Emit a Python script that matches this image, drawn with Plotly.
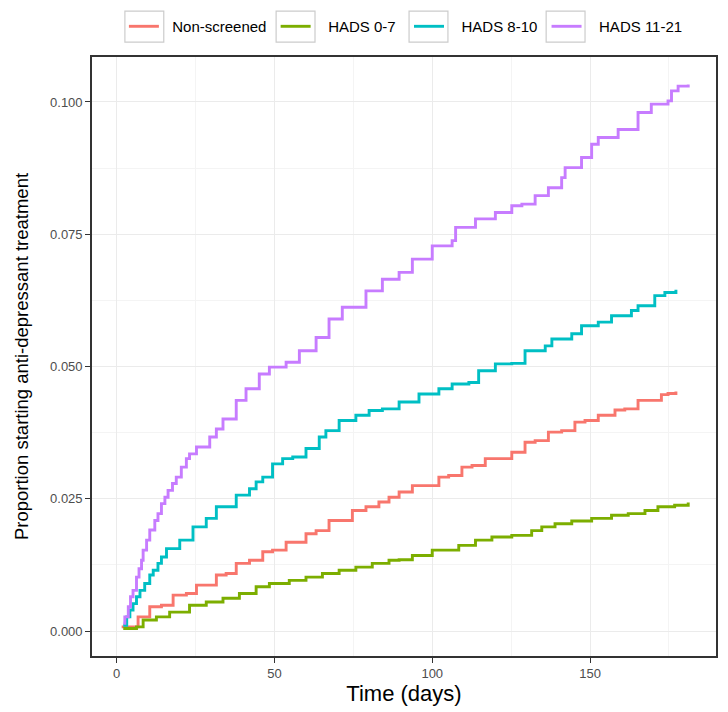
import plotly.graph_objects as go

# ---- data ----
series_names = ["Non-screened", "HADS 0-7", "HADS 8-10", "HADS 11-21"]
series_colors = ["#F8766D", "#7CAE00", "#00BFC4", "#C77CFF"]

nonscreened_x = [1.6, 6.8, 10.5, 14.2, 17.9, 22.1, 25.3, 28.4, 31.6, 34.7, 37.9, 42.1, 46.3, 49.4, 53.7, 55.8,
                 60, 63.2, 67.3, 70.5, 74.7, 79, 83.1, 86.3, 89.5, 93.7, 97.9, 102.1, 105.2, 109.4, 112.6, 116.8,
                 120, 125.2, 129.4, 132.6, 136.8, 141, 145.2, 148.4, 152.6, 157.9, 161, 165.2, 168.4, 172.6,
                 174.7, 177.2]
nonscreened_y = [0.0008, 0.0027, 0.0046, 0.0049, 0.0068, 0.0071, 0.0087, 0.0087, 0.0106, 0.0109, 0.0128, 0.0134,
                 0.0150, 0.0153, 0.0168, 0.0168, 0.0184, 0.0190, 0.0209, 0.0209, 0.0228, 0.0235, 0.0244, 0.0253,
                 0.0263, 0.0275, 0.0275, 0.0291, 0.0294, 0.0310, 0.0313, 0.0326, 0.0326, 0.0338, 0.0357, 0.0360,
                 0.0376, 0.0379, 0.0395, 0.0398, 0.0408, 0.0418, 0.0420, 0.0436, 0.0436, 0.0447, 0.0449, 0.0453]

hads07_x = [2.1, 6.3, 8.4, 12.6, 16.8, 23.1, 28.4, 33.7, 38.9, 44.2, 48.4, 54.7, 60, 65.2, 70.5, 75.8, 81,
            86.3, 89.5, 93.7, 100, 102, 108.4, 113.7, 118.9, 125.2, 131.5, 134.7, 138.9, 144.2, 150.5, 156.8,
            162.1, 167.4, 171.5, 176.8, 181.1]
hads07_y = [0.0005, 0.0008, 0.0021, 0.0027, 0.0036, 0.0049, 0.0055, 0.0062, 0.0071, 0.0084, 0.0090, 0.0096,
            0.0102, 0.0109, 0.0115, 0.0121, 0.0128, 0.0134, 0.0135, 0.0143, 0.0153, 0.0153, 0.0162, 0.0172,
            0.0178, 0.0181, 0.0190, 0.0197, 0.0203, 0.0208, 0.0213, 0.0219, 0.0222, 0.0228, 0.0235, 0.0238,
            0.0243]

hads810_x = [2.1, 3.2, 4.2, 5.2, 6.3, 7.4, 8.9, 10.5, 11.6, 13.1, 14.2, 15.8, 20, 24.2, 28.4, 31.6, 34.7,
             37.9, 42.1, 44.2, 46.3, 49.4, 52.6, 55.8, 60, 64.2, 66.3, 70.5, 75.8, 80, 84.2, 89.5, 95.8, 102.1,
             106.3, 111.6, 114.7, 120, 125.2, 129.4, 135.8, 137.9, 144.2, 147.3, 152.6, 156.8, 163.1, 165.2,
             170.5, 173.7, 177.2]
hads810_y = [0.0011, 0.0027, 0.0040, 0.0052, 0.0065, 0.0077, 0.0090, 0.0106, 0.0115, 0.0128, 0.0140, 0.0156,
             0.0172, 0.0197, 0.0213, 0.0235, 0.0235, 0.0257, 0.0269, 0.0282, 0.0291, 0.0316, 0.0326, 0.0329,
             0.0345, 0.0367, 0.0379, 0.0398, 0.0408, 0.0417, 0.0420, 0.0433, 0.0448, 0.0458, 0.0467, 0.0470,
             0.0492, 0.0505, 0.0506, 0.0530, 0.0539, 0.0552, 0.0562, 0.0577, 0.0584, 0.0596, 0.0606, 0.0615,
             0.0634, 0.0640, 0.0645]

hads1121_x = [2.1, 2.6, 3.7, 4.4, 5.2, 6.3, 7.1, 7.9, 8.4, 9.5, 10.5, 12.1, 13.1, 14.2, 15.3, 16.3, 17.7, 18.9,
              20.5, 22.1, 23.1, 25.3, 29.5, 31.6, 33.7, 37.9, 41.0, 45.2, 48.4, 53.7, 57.9, 63.2, 67.3, 71.5,
              79, 84.2, 89.5, 93.7, 100, 106.3, 107.4, 113.7, 120, 125.2, 128.4, 132.6, 136.8, 141, 142.1,
              147.3, 150.5, 152.6, 158.9, 165.2, 169.4, 174.7, 175.8, 177.9, 181.1]
hads1121_y = [0.0015, 0.0027, 0.0046, 0.0065, 0.0077, 0.0102, 0.0118, 0.0134, 0.0153, 0.0172, 0.0191, 0.0209,
              0.0222, 0.0241, 0.0253, 0.0266, 0.0279, 0.0291, 0.0310, 0.0326, 0.0335, 0.0348, 0.0367, 0.0382,
              0.0401, 0.0436, 0.0458, 0.0486, 0.0499, 0.0508, 0.0530, 0.0555, 0.0590, 0.0612, 0.0643, 0.0665,
              0.0678, 0.0703, 0.0728, 0.0738, 0.0763, 0.0779, 0.0791, 0.0804, 0.0807, 0.0823, 0.0838, 0.0857,
              0.0876, 0.0895, 0.0920, 0.0933, 0.0948, 0.0980, 0.0996, 0.1002, 0.1021, 0.1030, 0.1033]

x_tick_vals = [0, 50, 100, 150]
y_tick_vals = [0.000, 0.025, 0.050, 0.075, 0.100]
y_tick_text = ["0.000", "0.025", "0.050", "0.075", "0.100"]

xs = [nonscreened_x, hads07_x, hads810_x, hads1121_x]
ys = [nonscreened_y, hads07_y, hads810_y, hads1121_y]

# ---- layout geometry (pixels) ----
W, H = 728, 712
ML, MR, MT, MB = 92, 10, 56, 56
PW, PH = W - ML - MR, H - MT - MB

NB = "\u00a0"
# leading / trailing non-breaking spaces to mimic ggplot legend spacing
lead = [2, 3, 3, 3]
trail = [1, 2, 1, 0]
legend_labels = [NB * l + n + NB * t for n, l, t in zip(series_names, lead, trail)]

fig = go.Figure()
for label, color, x, y in zip(legend_labels, series_colors, xs, ys):
    fig.add_trace(go.Scatter(x=x, y=y, mode="lines", name=label,
                             line=dict(color=color, width=2.9, shape="hv")))

font_family = "Liberation Sans, Arial, sans-serif"
legend_font = 15
legend_origin = 124  # px from left of figure

# predicted plotly legend item origins for the key boxes
nbw = 0.278 * legend_font
char_w = {"N": 722, "o": 556, "n": 556, "-": 333, "s": 500, "c": 500, "r": 333, "e": 556, "d": 556,
          "H": 722, "A": 667, "D": 722, "S": 667, " ": 278, "0": 556, "1": 556, "2": 556, "7": 556,
          "8": 556}
origins = [legend_origin]
for name, l, t in zip(series_names, lead, trail):
    tw = sum(char_w.get(c, 556) for c in name) / 1000 * legend_font
    origins.append(origins[-1] + 40 + (l + t) * nbw + tw + 5)
origins = origins[:4]

shapes = []
box_top, box_bot = 10, 41
for o in origins:
    x0 = (o + 1 - ML) / PW
    x1 = (o + 40 - ML) / PW
    y0 = (H - MB - box_bot) / PH
    y1 = (H - MB - box_top) / PH
    shapes.append(dict(type="rect", xref="paper", yref="paper", x0=x0, x1=x1, y0=y0, y1=y1,
                       line=dict(color="#cccccc", width=1.2), fillcolor="white", layer="below"))

fig.update_layout(
    width=W, height=H,
    margin=dict(l=ML, r=MR, t=MT, b=MB),
    paper_bgcolor="white", plot_bgcolor="white",
    font=dict(family=font_family, color="black"),
    showlegend=True,
    shapes=shapes,
    legend=dict(orientation="h", x=(legend_origin - ML) / PW, xanchor="left",
                y=(H - MB - (box_top + box_bot) / 2) / PH, yanchor="middle",
                bgcolor="rgba(0,0,0,0)", borderwidth=0,
                font=dict(size=legend_font, color="black"), itemwidth=30, traceorder="normal"),
    xaxis=dict(range=[-7.8, 189.9], tickvals=x_tick_vals, ticks="outside", ticklen=5, tickwidth=1.3,
               tickcolor="#333333", tickfont=dict(size=13, color="#4d4d4d"),
               showline=True, linecolor="#333333", linewidth=1.6, mirror=True,
               showgrid=True, gridcolor="#ebebeb", gridwidth=1, zeroline=False,
               minor=dict(dtick=25, tick0=25, showgrid=True, gridcolor="#f4f4f4", gridwidth=1),
               title=dict(text="Time (days)", font=dict(size=22, color="black"), standoff=2)),
    yaxis=dict(range=[-0.0047, 0.1085], tickvals=y_tick_vals, ticktext=y_tick_text, ticks="outside",
               ticklen=5, tickwidth=1.3, tickcolor="#333333", tickfont=dict(size=13, color="#4d4d4d"),
               showline=True, linecolor="#333333", linewidth=1.6, mirror=True,
               showgrid=True, gridcolor="#ebebeb", gridwidth=1, zeroline=False,
               minor=dict(dtick=0.025, tick0=0.0125, showgrid=True, gridcolor="#f4f4f4", gridwidth=1),
               title=dict(text="Proportion starting anti-depressant treatment",
                          font=dict(size=18.5, color="black"), standoff=17)),
)

fig.write_html("out.html", config={"displayModeBar": False},
               post_script="document.body.style.margin='0px';document.body.style.padding='0px';"
                           "document.documentElement.style.overflow='hidden';")
